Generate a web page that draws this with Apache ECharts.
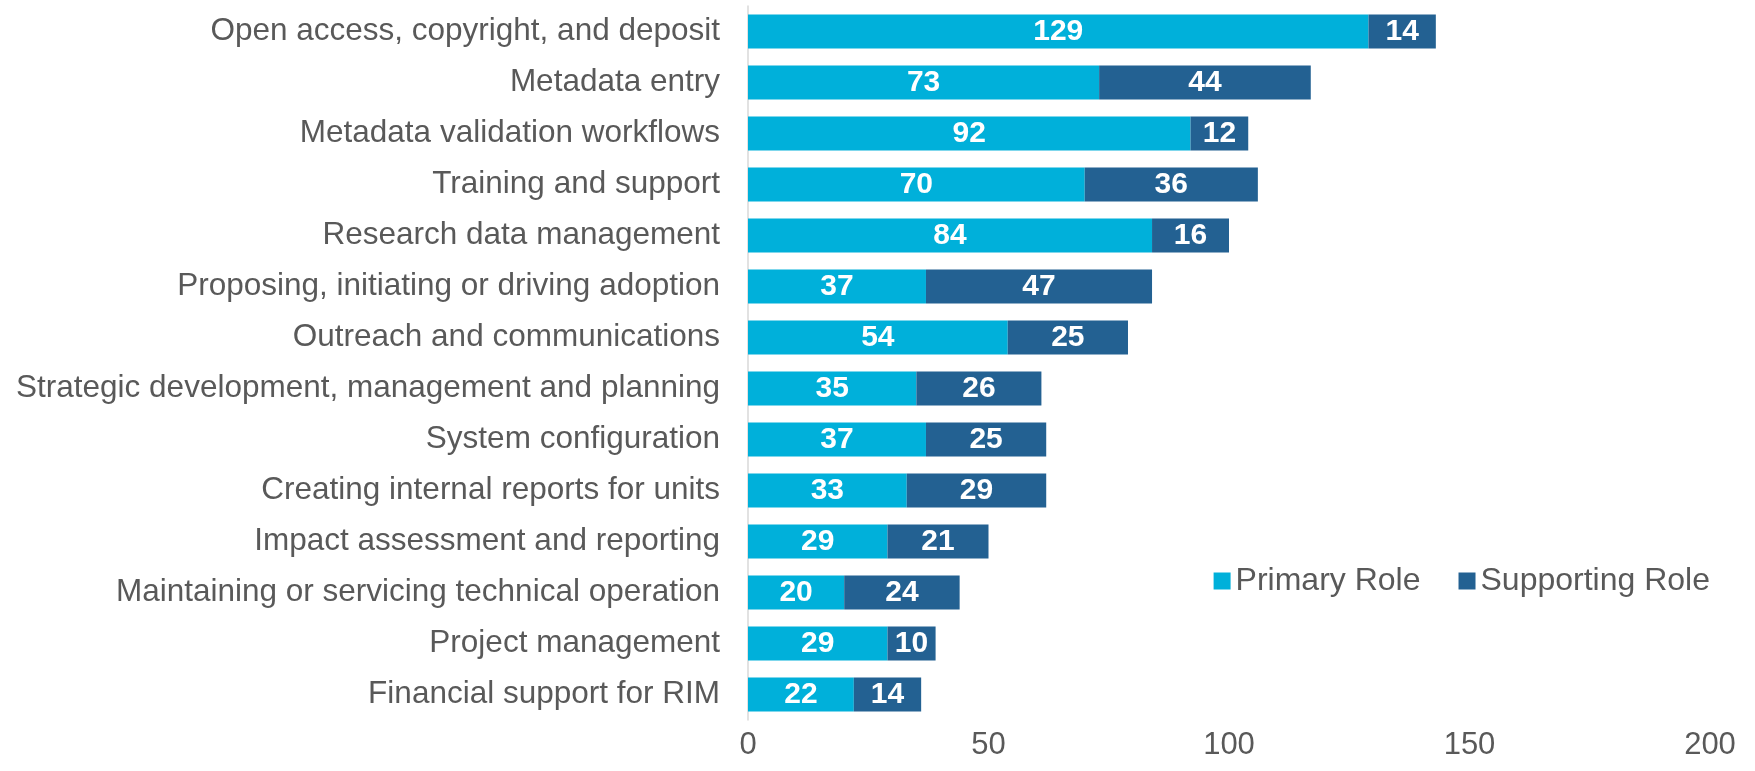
<!DOCTYPE html>
<html>
<head>
<meta charset="utf-8">
<script src="https://cdn.jsdelivr.net/npm/echarts@6/dist/echarts.min.js"></script>
<style>
  html, body { margin: 0; padding: 0; background: #fff; }
  #main { width: 1755px; height: 771px; }
</style>
</head>
<body>
<div id="main"></div>
<script>
var categories = [
    'Open access, copyright, and deposit',
    'Metadata entry',
    'Metadata validation workflows',
    'Training and support',
    'Research data management',
    'Proposing, initiating or driving adoption',
    'Outreach and communications',
    'Strategic development, management and planning',
    'System configuration',
    'Creating internal reports for units',
    'Impact assessment and reporting',
    'Maintaining or servicing technical operation',
    'Project management',
    'Financial support for RIM'
];
var primaryRole = [129, 73, 92, 70, 84, 37, 54, 35, 37, 33, 29, 20, 29, 22];
var supportingRole = [14, 44, 12, 36, 16, 47, 25, 26, 25, 29, 21, 24, 10, 14];
var xTicks = [0, 50, 100, 150, 200];

var myChart = echarts.init(document.getElementById('main'));

var valueLabel = {
    show: true,
    position: 'inside',
    color: '#ffffff',
    fontFamily: 'Liberation Sans',
    fontWeight: 'bold',
    fontSize: 30
};

myChart.setOption({
    animation: false,
    grid: {
        left: 748,
        right: 45,
        top: 6,
        bottom: 51
    },
    legend: {
        data: ['Primary Role', 'Supporting Role'],
        right: 40,
        top: 560,
        itemWidth: 17,
        itemHeight: 17,
        itemGap: 38,
        icon: 'rect',
        textStyle: {
            color: '#595959',
            fontFamily: 'Liberation Sans',
            fontSize: 32
        }
    },
    xAxis: {
        type: 'value',
        min: xTicks[0],
        max: xTicks[xTicks.length - 1],
        interval: 50,
        axisLine: { show: false },
        axisTick: { show: false },
        splitLine: { show: false },
        axisLabel: {
            color: '#595959',
            fontFamily: 'Liberation Sans',
            fontSize: 31,
            margin: 10
        }
    },
    yAxis: {
        type: 'category',
        data: categories,
        inverse: true,
        axisLine: { show: true, lineStyle: { color: '#d9d9d9', width: 1.5 } },
        axisTick: { show: false },
        axisLabel: {
            color: '#595959',
            fontFamily: 'Liberation Sans',
            fontSize: 31.5,
            margin: 28
        }
    },
    series: [
        {
            name: 'Primary Role',
            type: 'bar',
            stack: 'total',
            data: primaryRole,
            barWidth: '67%',
            itemStyle: { color: '#00b0da' },
            label: valueLabel
        },
        {
            name: 'Supporting Role',
            type: 'bar',
            stack: 'total',
            data: supportingRole,
            itemStyle: { color: '#236192' },
            label: valueLabel
        }
    ]
});
</script>
</body>
</html>
